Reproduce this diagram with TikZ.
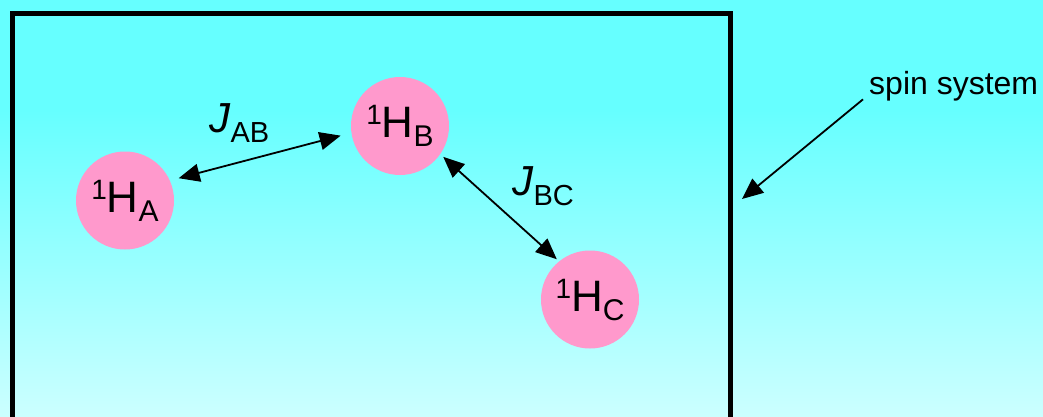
\documentclass[tikz,border=0pt]{standalone}
\usepackage{fontspec}
\setmainfont{Liberation Sans}
\usetikzlibrary{arrows.meta, positioning}

\definecolor{bgtop}{HTML}{66FFFF}
\definecolor{bgbot}{HTML}{CCFFFF}
\definecolor{spinpink}{HTML}{FF99CC}

\newcommand{\nuc}[1]{\raisebox{13pt}[0pt][0pt]{\fontsize{28}{28}\selectfont 1}H\raisebox{-9pt}[0pt][0pt]{\fontsize{30}{30}\selectfont #1}}
\newcommand{\coup}[1]{\textit{J}\raisebox{-10pt}[0pt][0pt]{\fontsize{29}{29}\selectfont #1}}

\begin{document}
\begin{tikzpicture}[x=1pt, y=-1pt,
	spin/.style={circle, fill=spinpink, minimum size=98pt, inner sep=0pt,
		text height=31pt, text depth=7.6pt, font=\fontsize{44}{44}\selectfont},
	coupling/.style={anchor=base west, inner sep=0pt, font=\fontsize{42}{42}\selectfont},
	link/.style={line width=1.8pt, {Triangle[length=21pt,width=18pt]}-{Triangle[length=21pt,width=18pt]}},
	pointer/.style={line width=1.8pt, -{Triangle[length=21pt,width=18pt]}}]

	\useasboundingbox (0,0) rectangle (1043,417);
	\fill[bgtop] (0,0) rectangle (1043,111);
	\shade[top color=bgtop, bottom color=bgbot] (0,110) rectangle (1043,417);

	% the spin system box, open at the bottom
	\draw[line width=5pt] (12.5,417) -- (12.5,13.5) -- (730,13.5) -- (730,417);

	\node[spin] (A) at (125,200.5) {\nuc{A}};
	\node[spin] (B) at (400,126) {\nuc{B}};
	\node[spin] (C) at (590,299.5) {\nuc{C}};

	\node[coupling] (JAB) at (209,132) {\coup{AB}};
	\node[coupling] (JBC) at (512,195) {\coup{BC}};

	\node[anchor=base west, inner sep=0pt, font=\fontsize{32}{32}\selectfont] (sys) at (869,95) {spin system};
	\coordinate (wall) at (742,199);

	\draw[link, shorten <=9pt, shorten >=11pt] (A.24) -- (B.188);
	\draw[link, shorten <=4pt, shorten >=3pt] (B.-35) -- (C.129);
	\draw[pointer] ([shift={(-6,-2.5)}]sys.south west) -- (wall);
\end{tikzpicture}
\end{document}
